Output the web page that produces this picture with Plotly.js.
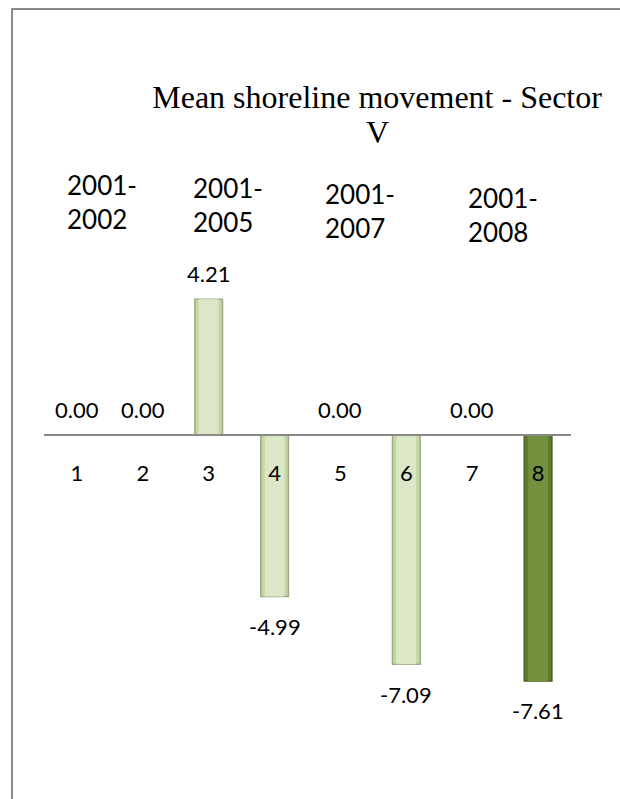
<!DOCTYPE html>
<html>
<head>
<meta charset="utf-8">
<script src="https://cdn.plot.ly/plotly-3.0.1.min.js"></script>
<style>
  html, body { margin: 0; padding: 0; width: 620px; height: 799px; overflow: hidden; background: #fff; }
  #chart { position: absolute; left: 0; top: 0; width: 620px; height: 799px; }
  #frame { position: absolute; left: 11px; top: 8px; width: 900px; height: 1000px;
           border-left: 2px solid #8a8a8a; border-top: 2px solid #8a8a8a; pointer-events: none; }
</style>
</head>
<body>
<div id="chart"></div>
<div id="frame"></div>
<script>
// Mean shoreline movement per profile, Sector V
const categories = ['1', '2', '3', '4', '5', '6', '7', '8'];
const movement = [0.00, 0.00, 4.21, -4.99, 0.00, -7.09, 0.00, -7.61];
const periods = ['2001-<br>2002', '2001-<br>2005', '2001-<br>2007', '2001-<br>2008'];

const yRange = [-9.5, 8];
const lightFill = '#c6d6a5', lightGlow = '#dce7c8', lightEdge = '#9dab82';
const darkFill = '#5e7a2b', darkGlow = '#73903d', darkEdge = '#4b6222';

const isDark = categories.map((c, i) => i === categories.length - 1);
const edgeWidth = movement.map(v => (v === 0 ? 0 : 1.5));

const baseBars = {
  type: 'bar', x: categories, y: movement, width: 0.42,
  marker: {
    color: isDark.map(d => (d ? darkFill : lightFill)),
    line: { color: isDark.map(d => (d ? darkEdge : lightEdge)), width: edgeWidth }
  },
  hoverinfo: 'skip'
};
const glowBars = {
  type: 'bar', x: categories, y: movement, width: 0.3,
  marker: { color: isDark.map(d => (d ? darkGlow : lightGlow)), line: { width: 0 } },
  hoverinfo: 'skip'
};

const textFont = { family: 'Lato, "Open Sans", sans-serif', size: 22, color: '#000' };

// value labels sit above zero/positive bars, below negative ones
// (x is the category index on the category axis)
const valueLabels = movement.map((v, i) => ({
  x: i, y: v, xref: 'x', yref: 'y',
  text: v.toFixed(2), showarrow: false,
  yshift: v >= 0 ? 26 : -30, yanchor: 'middle', xanchor: 'center',
  font: textFont
}));

const periodX = [0.040, 0.279, 0.529, 0.801];
const periodY = [0.955, 0.9496, 0.9407, 0.9327];
const periodLabels = periods.map((t, i) => ({
  x: periodX[i], y: periodY[i], xref: 'paper', yref: 'paper',
  text: t, showarrow: false, align: 'left', xanchor: 'left', yanchor: 'middle',
  font: { family: 'Lato, "Open Sans", sans-serif', size: 26, color: '#000' }
}));

const titleFont = { family: '"Liberation Serif", "Times New Roman", serif', size: 32, color: '#000' };

// wrapped second line of the chart title
const titleTail = {
  x: 0.632, y: 1.0796, xref: 'paper', yref: 'paper',
  text: 'V', showarrow: false, xanchor: 'center', yanchor: 'middle',
  font: titleFont
};

const layout = {
  width: 620, height: 799,
  margin: { l: 44, r: 49, t: 177, b: 57 },
  paper_bgcolor: '#fff', plot_bgcolor: 'rgba(0,0,0,0)',
  barmode: 'overlay', showlegend: false,
  title: {
    text: 'Mean shoreline movement - Sector',
    font: titleFont,
    x: 0.632, xref: 'paper', xanchor: 'center',
    y: 1 - 97 / 799, yref: 'container', yanchor: 'middle'
  },
  xaxis: {
    type: 'category', range: [-0.5, categories.length - 0.5],
    anchor: 'free',
    position: (0 - yRange[0]) / (yRange[1] - yRange[0]),
    showline: true, linecolor: '#8a8a8a', linewidth: 2,
    showgrid: false, zeroline: false, ticks: '',
    tickfont: textFont, ticklabelstandoff: 18
  },
  yaxis: {
    range: yRange, visible: false, showgrid: false, zeroline: false
  },
  annotations: valueLabels.concat(periodLabels, [titleTail])
};

Plotly.newPlot('chart', [baseBars, glowBars], layout, { staticPlot: true, displayModeBar: false });
</script>
</body>
</html>
